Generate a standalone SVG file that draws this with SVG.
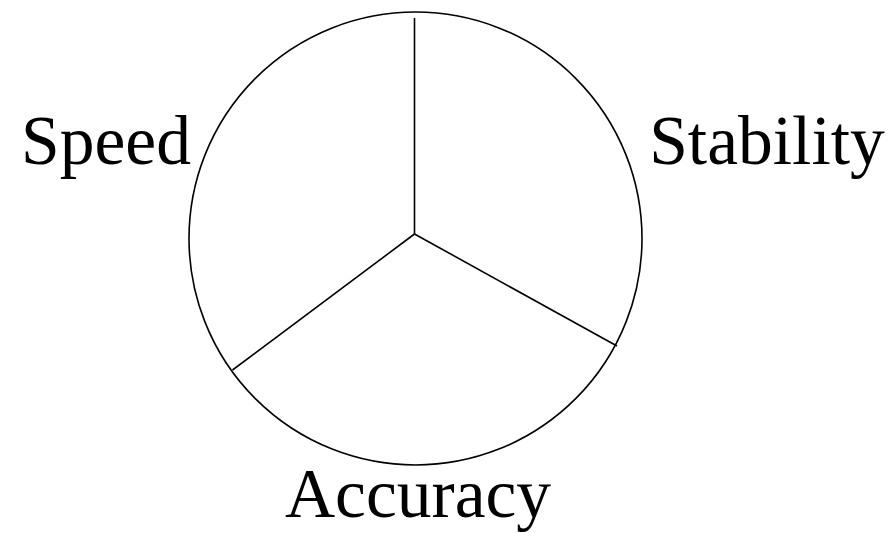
<svg xmlns="http://www.w3.org/2000/svg" width="889" height="533" viewBox="0 0 889 533">
<style>
.lbl{font-family:"Liberation Serif","Times New Roman",serif;font-size:69.5px;fill:#000;text-anchor:middle}
.ln{stroke:#000;stroke-width:1.6;fill:none}
</style>
<rect width="889" height="533" fill="#fff"/>
<g id="circle"><circle class="ln" cx="415.5" cy="238.5" r="226.5"/></g>
<g id="connectors">
<line class="ln" x1="414.5" y1="234" x2="414.5" y2="18"/>
<line class="ln" x1="414.5" y1="234" x2="232.5" y2="370"/>
<line class="ln" x1="414.5" y1="234" x2="617" y2="346"/>
</g>
<g id="speed"><text class="lbl" x="106" y="164">Speed</text></g>
<g id="stability"><text class="lbl" x="767" y="164">Stability</text></g>
<g id="accuracy"><text class="lbl" x="418" y="517">Accuracy</text></g>
</svg>
